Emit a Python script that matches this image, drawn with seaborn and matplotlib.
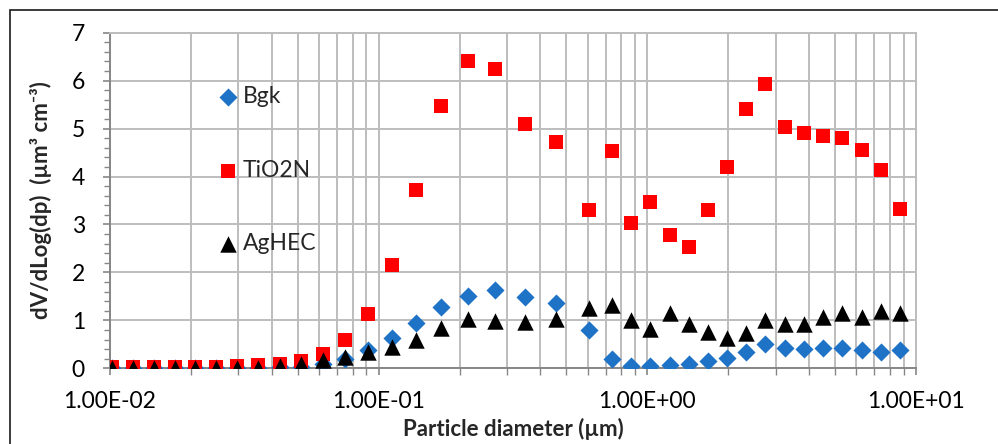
import numpy as np
import pandas as pd
import matplotlib
matplotlib.use("Agg")
import matplotlib.pyplot as plt
import matplotlib.ticker as mticker
from matplotlib.patches import Rectangle
import seaborn as sns

# particle diameter (um) - SMPS + APS channels
diameter = [0.0102, 0.0122, 0.0146, 0.0174, 0.0208, 0.0248, 0.0297, 0.0356, 0.0428,
            0.0514, 0.0621, 0.0751, 0.0915, 0.1118, 0.1373, 0.1706, 0.2144, 0.2716,
            0.3494, 0.457, 0.605, 0.740, 0.871, 1.025, 1.21, 1.425, 1.68, 1.98,
            2.33, 2.75, 3.25, 3.83, 4.52, 5.31, 6.28, 7.40, 8.71]

bgk = [0.0, 0.0, 0.0, 0.0, 0.0, 0.0, 0.0, 0.01, 0.02, 0.03, 0.08, 0.2, 0.38,
       0.63, 0.95, 1.28, 1.51, 1.63, 1.49, 1.37, 0.80, 0.19, 0.05, 0.05, 0.07,
       0.09, 0.16, 0.21, 0.35, 0.51, 0.43, 0.40, 0.42, 0.43, 0.38, 0.35, 0.39]

tio2n = [0.03, 0.03, 0.03, 0.03, 0.03, 0.03, 0.04, 0.06, 0.1, 0.16, 0.3, 0.58, 1.13,
         2.15, 3.72, 5.48, 6.41, 6.25, 5.09, 4.73, 3.31, 4.54, 3.04, 3.47, 2.77,
         2.52, 3.31, 4.20, 5.41, 5.94, 5.03, 4.91, 4.85, 4.81, 4.56, 4.13, 3.32]

aghec = [0.0, 0.0, 0.0, 0.0, 0.0, 0.0, 0.0, 0.01, 0.04, 0.1, 0.17, 0.24, 0.35,
         0.45, 0.6, 0.85, 1.03, 0.99, 0.96, 1.03, 1.25, 1.31, 1.01, 0.81, 1.16,
         0.92, 0.76, 0.63, 0.73, 1.01, 0.92, 0.92, 1.08, 1.16, 1.08, 1.20, 1.16]

series_names = ["Bgk", "TiO2N", "AgHEC"]
x_ticks = [0.01, 0.1, 1, 10]

df = pd.DataFrame({"dp": diameter, "Bgk": bgk, "TiO2N": tio2n, "AgHEC": aghec})

sns.set_style("white")
plt.rcParams["font.family"] = ["Lato", "DejaVu Sans"]

fig = plt.figure(figsize=(9.98, 4.44), dpi=100)
ax = fig.add_axes([110 / 998, 1 - 368.3 / 444, (916 - 110) / 998, (368.3 - 32.7) / 444])

styles = {
    "Bgk": dict(marker="D", color="#1f73c6", s=85),
    "TiO2N": dict(marker="s", color="#ff0000", s=115),
    "AgHEC": dict(marker="^", color="#000000", s=140),
}
for name in series_names:
    st = styles[name]
    sns.scatterplot(data=df, x="dp", y=name, ax=ax, marker=st["marker"], color=st["color"],
                    s=st["s"], linewidth=0, label=name, zorder=3)

ax.set_xscale("log")
ax.set_xlim(0.01, 10)
ax.set_ylim(0, 7)
ax.set_xticks(x_ticks)
ax.xaxis.set_major_formatter(mticker.FuncFormatter(lambda v, p: f"{v:.2E}"))
ax.xaxis.set_minor_locator(mticker.LogLocator(base=10, subs=np.arange(2, 10)))
ax.xaxis.set_minor_formatter(mticker.NullFormatter())
ax.yaxis.set_major_locator(mticker.MultipleLocator(1))
ax.yaxis.set_minor_locator(mticker.MultipleLocator(0.2))

grid_c = "#bdbdbd"
ax.grid(True, which="major", axis="both", color=grid_c, linewidth=1.4)
ax.grid(True, which="minor", axis="x", color=grid_c, linewidth=1.4)
ax.set_axisbelow(True)

for side in ["top", "right"]:
    ax.spines[side].set_color(grid_c)
    ax.spines[side].set_linewidth(1.4)
for side in ["left", "bottom"]:
    ax.spines[side].set_color("#868686")
    ax.spines[side].set_linewidth(1.4)

ax.tick_params(axis="both", which="major", direction="out", length=5, width=1.2,
               color="#868686", labelsize=16.5, labelcolor="black")
ax.tick_params(axis="y", which="major", left=True, pad=13)
ax.tick_params(axis="x", which="major", bottom=True, pad=11)
ax.tick_params(axis="both", which="minor", direction="out", length=4, width=1.0,
               color="#868686")
ax.tick_params(axis="y", which="minor", left=True)
ax.tick_params(axis="x", which="minor", bottom=True, length=5)

ax.set_xlabel("Particle diameter (µm)", fontsize=16, fontweight="bold")
ax.set_ylabel("dV/dLog(dp)  (µm³ cm⁻³)", fontsize=16, fontweight="bold")
ax.xaxis.set_label_coords(0.5, -0.148)
ax.yaxis.set_label_coords(-0.072, 0.5)

ax.legend(loc="upper left", bbox_to_anchor=(221 / 998, 1 - 86 / 444),
          bbox_transform=fig.transFigure, frameon=False, fontsize=16.5,
          borderpad=0, borderaxespad=0, handlelength=0.6, handletextpad=0.35,
          labelspacing=2.3, markerscale=1.0)

# chart area border (extends past right/bottom edge of the image)
fig.patches.append(Rectangle((10 / 998, -0.1), 1.2, 1 - 10 / 444 + 0.1,
                             transform=fig.transFigure, fill=False,
                             edgecolor="#1a1a1a", linewidth=1.2))

fig.savefig("out.png", dpi=100)
